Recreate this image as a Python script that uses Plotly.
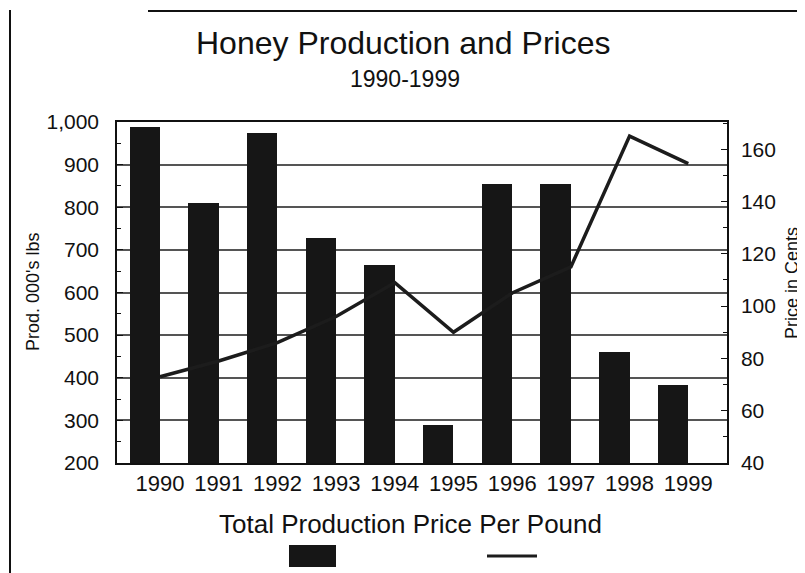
import plotly.graph_objects as go

# data
years = ["1990", "1991", "1992", "1993", "1994", "1995", "1996", "1997", "1998", "1999"]
production = [988, 811, 975, 729, 665, 289, 855, 855, 461, 382]   # 000's lbs
price = [73, 79, 86, 96, 109, 90, 105, 115, 165, 154.5]            # cents per pound

# the page body keeps its 8px margin, so the figure is laid out 8px smaller
OX = OY = 8
W, H = 805 - OX, 573 - OY
L, R, T, B = 117 - OX, 805 - 727, 122 - OY, 573 - 463
pw, ph = W - L - R, H - T - B

def px(x):
    return (x - OX - L) / pw

def py(y):
    return (H - B - (y - OY)) / ph

FONT = "Liberation Sans, Arial, sans-serif"
INK = "#161616"

fig = go.Figure()
fig.add_trace(go.Bar(x=years, y=production, marker=dict(color=INK, line=dict(width=0)),
                     width=0.52, offset=-0.52, name="Total Production"))
fig.add_trace(go.Scatter(x=years, y=price, yaxis="y2", mode="lines",
                         line=dict(color="#1c1c1c", width=3.5), name="Price Per Pound"))

fig.update_layout(
    width=W, height=H,
    margin=dict(l=L, r=R, t=T, b=B, autoexpand=False),
    paper_bgcolor="white", plot_bgcolor="white",
    showlegend=False,
    font=dict(family=FONT, color="#111111"),
    xaxis=dict(type="category", range=[-0.733, 9.66], showgrid=False,
               showline=True, linecolor="#111111", linewidth=1.5, mirror=True,
               ticks="", tickfont=dict(size=22), ticklabelstandoff=0),
    yaxis=dict(range=[200, 1000], dtick=100, tickformat=",", showgrid=True,
               gridcolor="#555555", gridwidth=1.5, zeroline=False,
               showline=True, linecolor="#111111", linewidth=1.5,
               ticks="inside", ticklen=6, tickcolor="#111111",
               minor=dict(dtick=50, ticks="inside", ticklen=4, showgrid=False),
               tickfont=dict(size=21), ticklabelstandoff=12),
    yaxis2=dict(overlaying="y", side="right", range=[40, 170.4], dtick=20,
                showgrid=False, zeroline=False,
                showline=True, linecolor="#111111", linewidth=1.5,
                ticks="inside", ticklen=6, tickcolor="#111111",
                minor=dict(dtick=10, ticks="inside", ticklen=4),
                tickfont=dict(size=21), ticklabelstandoff=8),
    bargap=0,
)

def note(text, x, y, size, angle=0):
    fig.add_annotation(text=text, x=px(x), y=py(y), xref="paper", yref="paper",
                       showarrow=False, font=dict(size=size), textangle=angle,
                       xanchor="center", yanchor="middle")

# titles
note("Honey Production and Prices", 403, 43, 32)
note("1990-1999", 405, 79, 23)
note("Prod. 000's lbs", 33, 292, 18, -90)
note("Price in Cents", 792, 283, 18, -90)

# legend (text above the keys)
note("Total Production Price Per Pound", 410, 524, 26)
fig.add_shape(type="rect", xref="paper", yref="paper", x0=px(289), x1=px(336), y0=py(567), y1=py(545),
              fillcolor=INK, line=dict(width=0))
fig.add_shape(type="line", xref="paper", yref="paper", x0=px(487), x1=px(537), y0=py(556), y1=py(556),
              line=dict(color="#1c1c1c", width=3))

# scanned page border
fig.add_shape(type="line", xref="paper", yref="paper", x0=px(10), x1=px(10), y0=py(10), y1=py(573),
              line=dict(color="#111111", width=2))
fig.add_shape(type="line", xref="paper", yref="paper", x0=px(148), x1=px(805), y0=py(11), y1=py(11),
              line=dict(color="#111111", width=2))

fig.write_html("out.html")
